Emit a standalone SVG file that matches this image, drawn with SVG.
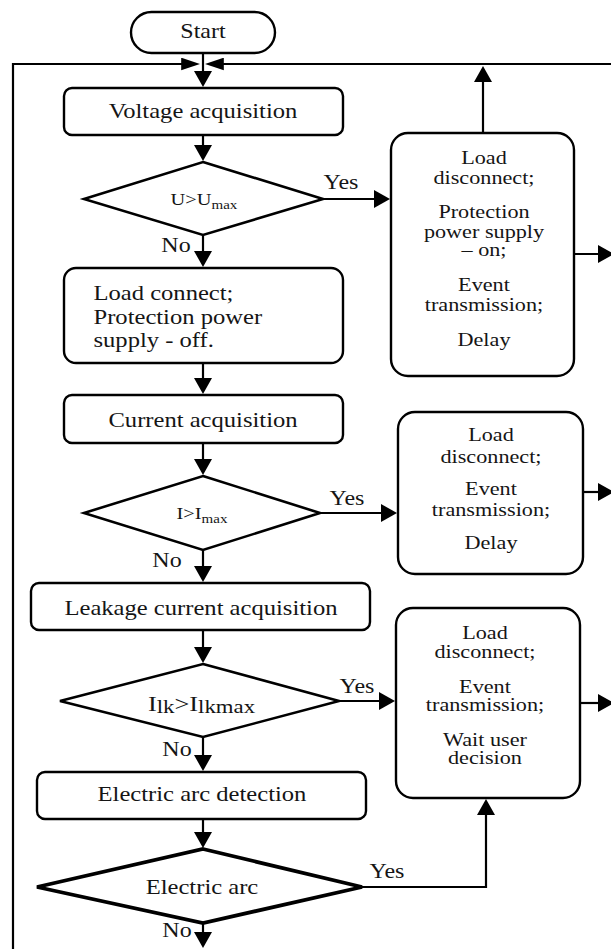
<svg xmlns="http://www.w3.org/2000/svg" width="611" height="949" viewBox="0 0 611 949" font-family="'Liberation Serif', 'DejaVu Serif', serif">
<style>
.bx{fill:#fff;stroke:#000;stroke-width:2.4}
.dm{fill:#fff;stroke:#000;stroke-width:2.6;stroke-linejoin:miter}
.ln{fill:none;stroke:#000;stroke-width:2.2}
.tx{font-family:'Liberation Serif','DejaVu Serif',serif;fill:#151515}
.m{font-size:20.5px;text-anchor:middle}
.r{font-size:18.5px;text-anchor:middle}
.l{font-size:20px;text-anchor:middle}
</style>
<defs>
<marker id="ah" markerUnits="userSpaceOnUse" markerWidth="17" markerHeight="20" viewBox="0 0 16 20" refX="13" refY="10" orient="auto"><path d="M0,1 L16,10 L0,19 z" fill="#000"/></marker>
<marker id="ahs" markerUnits="userSpaceOnUse" markerWidth="19" markerHeight="13" viewBox="0 0 18 12" refX="15" refY="6" orient="auto"><path d="M0,0 L18,6 L0,12 z" fill="#000"/></marker>
</defs>
<g id="connectors">
<path class="ln" d="M13,949 V64 H197" marker-end="url(#ahs)"/>
<path class="ln" d="M611,64 H208" marker-end="url(#ahs)"/>
<path class="ln" d="M203,53 V84" marker-end="url(#ah)"/>
<path class="ln" d="M483,133 V69" marker-end="url(#ah)"/>
<path class="ln" d="M203,135 V158" marker-end="url(#ah)"/>
<path class="ln" d="M323,199 H387" marker-end="url(#ah)"/>
<path class="ln" d="M203,235 V264" marker-end="url(#ah)"/>
<path class="ln" d="M203,363 V391" marker-end="url(#ah)"/>
<path class="ln" d="M203,443 V472" marker-end="url(#ah)"/>
<path class="ln" d="M320,513 H394" marker-end="url(#ah)"/>
<path class="ln" d="M203,550 V579" marker-end="url(#ah)"/>
<path class="ln" d="M203,630 V660" marker-end="url(#ah)"/>
<path class="ln" d="M339,701 H392" marker-end="url(#ah)"/>
<path class="ln" d="M203,737 V768" marker-end="url(#ah)"/>
<path class="ln" d="M203,819 V845" marker-end="url(#ah)"/>
<path class="ln" d="M362,887 H486 V802" marker-end="url(#ah)"/>
<path class="ln" d="M203,923 V945" marker-end="url(#ah)"/>
<path class="ln" d="M574,254 H611" marker-end="url(#ah)"/>
<path class="ln" d="M583,492 H611" marker-end="url(#ah)"/>
<path class="ln" d="M580,703 H611" marker-end="url(#ah)"/>
<g transform="matrix(1.2,0,0,1,-68.2,0)"><text class="tx l" x="341" y="189">Yes</text></g>
<g transform="matrix(1.2,0,0,1,-69.4,0)"><text class="tx l" x="347" y="505">Yes</text></g>
<g transform="matrix(1.2,0,0,1,-71.4,0)"><text class="tx l" x="357" y="693">Yes</text></g>
<g transform="matrix(1.2,0,0,1,-77.4,0)"><text class="tx l" x="387" y="878">Yes</text></g>
<g transform="matrix(1.2,0,0,1,-35.2,0)"><text class="tx l" x="176" y="252">No</text></g>
<g transform="matrix(1.2,0,0,1,-33.4,0)"><text class="tx l" x="167" y="567">No</text></g>
<g transform="matrix(1.2,0,0,1,-35.4,0)"><text class="tx l" x="177" y="756">No</text></g>
<g transform="matrix(1.2,0,0,1,-35.4,0)"><text class="tx l" x="177" y="937">No</text></g>
</g>
<g id="start">
<rect class="bx" x="131" y="12" width="144" height="41" rx="20.5"/>
<g transform="matrix(1.2,0,0,1,-40.6,0)"><text class="tx l" x="203" y="38">Start</text></g>
</g>
<g id="voltage">
<rect class="bx" x="64" y="88" width="279" height="47" rx="8"/>
<g transform="matrix(1.2,0,0,1,-40.6,0)"><text class="tx m" x="203" y="118">Voltage acquisition</text></g>
</g>
<g id="d1">
<polygon class="dm" points="203,162 323,199 203,235 84,199"/>
<g transform="matrix(1.2,0,0,1,-40.8,0)"><text class="tx" x="204" y="205" style="font-size:17px;text-anchor:middle">U&gt;U<tspan dy="4" style="font-size:12.5px">max</tspan></text></g>
</g>
<g id="loadconnect">
<rect class="bx" x="64" y="268" width="279" height="95" rx="12"/>
<g transform="matrix(1.2,0,0,1,-18.7,0)">
<text class="tx" style="font-size:20.5px" x="93.5" y="300">Load connect;</text>
<text class="tx" style="font-size:20.5px" x="93.5" y="324">Protection power</text>
<text class="tx" style="font-size:20.5px" x="93.5" y="347">supply - off.</text>
</g>
</g>
<g id="current">
<rect class="bx" x="64" y="395" width="279" height="48" rx="8"/>
<g transform="matrix(1.2,0,0,1,-40.6,0)"><text class="tx m" x="203" y="427">Current acquisition</text></g>
</g>
<g id="d2">
<polygon class="dm" points="203,476 320,513 203,550 84,513"/>
<g transform="matrix(1.2,0,0,1,-40.4,0)"><text class="tx" x="202" y="519" style="font-size:17px;text-anchor:middle">I&gt;I<tspan dy="4" style="font-size:12.5px">max</tspan></text></g>
</g>
<g id="leakage">
<rect class="bx" x="31" y="583" width="339" height="47" rx="8"/>
<g transform="matrix(1.2,0,0,1,-40.2,0)"><text class="tx m" x="201" y="615">Leakage current acquisition</text></g>
</g>
<g id="d3">
<polygon class="dm" points="203,664 339,701 203,737 60,701"/>
<g transform="matrix(1.2,0,0,1,-40.3,0)"><text class="tx" x="201.5" y="711" style="font-size:22px;text-anchor:middle">I<tspan dy="2" style="font-size:19px">lk</tspan><tspan dy="-2" style="font-size:22px">&gt;I</tspan><tspan dy="2" style="font-size:19px">lkmax</tspan></text></g>
</g>
<g id="ead">
<rect class="bx" x="37" y="772" width="329" height="47" rx="8"/>
<g transform="matrix(1.2,0,0,1,-40.4,0)"><text class="tx m" x="202" y="801">Electric arc detection</text></g>
</g>
<g id="d4">
<polygon class="dm" points="203,849 362,887 203,923 37,887" style="stroke-width:3.8"/>
<g transform="matrix(1.2,0,0,1,-40.4,0)"><text class="tx m" x="202" y="894">Electric arc</text></g>
</g>
<g id="box1">
<rect class="bx" x="391" y="133" width="183" height="243" rx="17"/>
<g transform="matrix(1.2,0,0,1,-96.8,0)">
<text class="tx r" x="484" y="164">Load</text>
<text class="tx r" x="484" y="184">disconnect;</text>
<text class="tx r" x="484" y="218">Protection</text>
<text class="tx r" x="484" y="238">power supply</text>
<text class="tx r" x="484" y="256">– on;</text>
<text class="tx r" x="484" y="291">Event</text>
<text class="tx r" x="484" y="311">transmission;</text>
<text class="tx r" x="484" y="346">Delay</text>
</g>
</g>
<g id="box2">
<rect class="bx" x="398" y="412" width="185" height="162" rx="17"/>
<g transform="matrix(1.2,0,0,1,-98.2,0)">
<text class="tx r" x="491" y="441">Load</text>
<text class="tx r" x="491" y="463">disconnect;</text>
<text class="tx r" x="491" y="495">Event</text>
<text class="tx r" x="491" y="516">transmission;</text>
<text class="tx r" x="491" y="549">Delay</text>
</g>
</g>
<g id="box3">
<rect class="bx" x="396" y="608" width="184" height="190" rx="17"/>
<g transform="matrix(1.2,0,0,1,-97,0)">
<text class="tx r" x="485" y="639">Load</text>
<text class="tx r" x="485" y="658">disconnect;</text>
<text class="tx r" x="485" y="693">Event</text>
<text class="tx r" x="485" y="711">transmission;</text>
<text class="tx r" x="485" y="746">Wait user</text>
<text class="tx r" x="485" y="764">decision</text>
</g>
</g>
</svg>
